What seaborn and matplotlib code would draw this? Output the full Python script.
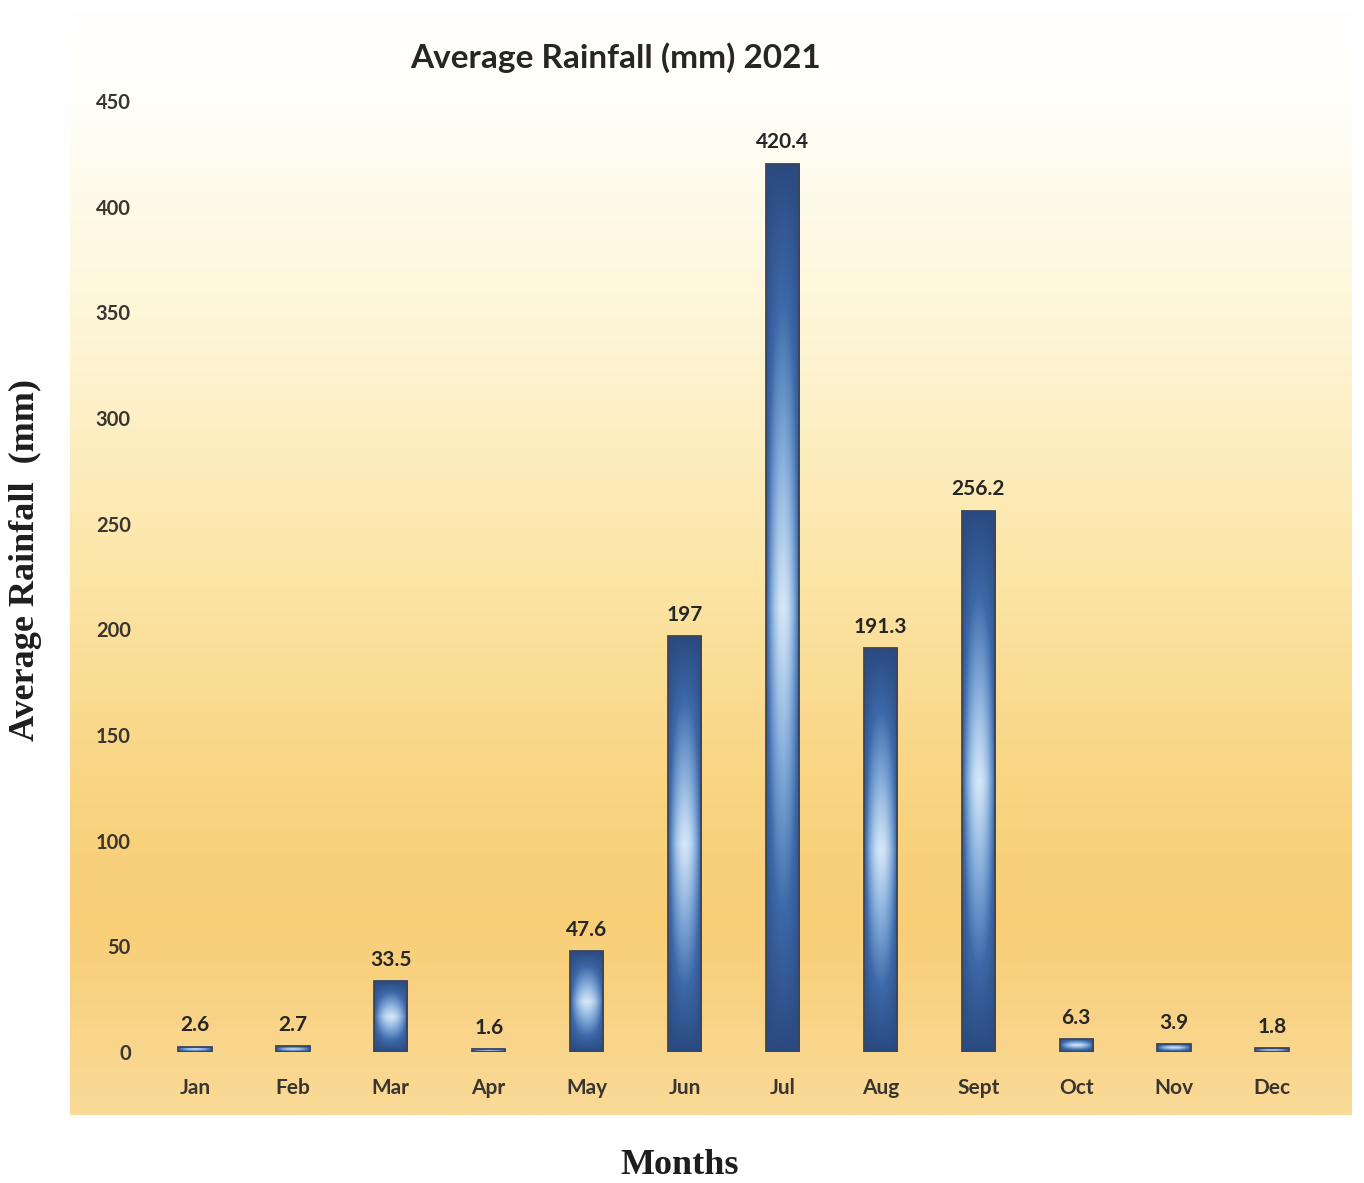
import numpy as np
import pandas as pd
import matplotlib
matplotlib.use("Agg")
import matplotlib.pyplot as plt
import seaborn as sns
from matplotlib.colors import LinearSegmentedColormap

# Monthly rainfall data
months = ["Jan", "Feb", "Mar", "Apr", "May", "Jun", "Jul", "Aug", "Sept", "Oct", "Nov", "Dec"]
rainfall = [2.6, 2.7, 33.5, 1.6, 47.6, 197, 420.4, 191.3, 256.2, 6.3, 3.9, 1.8]
yticks = [0, 50, 100, 150, 200, 250, 300, 350, 400, 450]

title = "Average Rainfall (mm) 2021"
ylabel = "Average Rainfall  (mm)"
xlabel = "Months"

sns.set_theme(style="white")
plt.rcParams["font.family"] = ["Lato", "DejaVu Sans"]

W, H = 1364, 1183
fig = plt.figure(figsize=(W / 100, H / 100), dpi=100)
fig.patch.set_facecolor("white")

# Chart-area background: pale yellow at the top fading to warm orange
bg_cmap = LinearSegmentedColormap.from_list(
    "sunset",
    [(0.0, "#FFFFFF"), (0.10, "#FFFEF6"), (0.30, "#FEF5D4"), (0.50, "#FCE6A9"),
     (0.72, "#F9D37F"), (0.83, "#F8CE77"), (1.0, "#FADA98")],
)
bg_ax = fig.add_axes([70 / W, 1 - 1115 / H, (1352 - 70) / W, (1115 - 8) / H], zorder=0)
grad = np.linspace(0, 1, 512).reshape(-1, 1)
bg_ax.imshow(grad, aspect="auto", cmap=bg_cmap, extent=[0, 1, 0, 1], origin="upper")
bg_ax.axis("off")

# Main plotting axes
ax = fig.add_axes([146 / W, 1 - 1052 / H, (1321 - 146) / W, (1052 - 101) / H], zorder=1)
ax.patch.set_alpha(0)

df = pd.DataFrame({"Month": months, "Rainfall": rainfall})
sns.barplot(data=df, x="Month", y="Rainfall", ax=ax, width=0.34, color="#3A62A0",
            errorbar=None, saturation=1)

# Shaded fill for each bar: dark blue edges, pale centre
bar_cmap = LinearSegmentedColormap.from_list(
    "steel", ["#2A4A80", "#3D68A8", "#80A9D8", "#D4E6F8"])
nu, nv = 64, 256
u = np.linspace(-1, 1, nu)
v = np.linspace(-1, 1, nv)
U, V = np.meshgrid(u, v)
shade = (1 - np.abs(V) ** 1.1) * (1 - 0.75 * U ** 2)

for patch in ax.patches:
    x0, y0 = patch.get_x(), patch.get_y()
    w, h = patch.get_width(), patch.get_height()
    img = ax.imshow(shade, cmap=bar_cmap, vmin=0, vmax=1, aspect="auto",
                    extent=[x0, x0 + w, y0, y0 + h], origin="lower", zorder=2,
                    interpolation="bilinear")
    img.set_clip_path(patch)
    patch.set_facecolor("none")
    patch.set_edgecolor("#3B4660")
    patch.set_linewidth(1.3)
    patch.set_zorder(3)

ax.set_xlim(-0.5, len(months) - 0.5)
ax.set_ylim(0, 450)
ax.set_aspect("auto")

# Value labels above bars
for patch, val in zip(ax.patches, rainfall):
    ax.annotate(f"{val:g}", (patch.get_x() + patch.get_width() / 2, patch.get_height()),
                xytext=(0, 8), textcoords="offset points", ha="center", va="bottom",
                fontsize=15, fontweight="bold", color="#262626", zorder=4)

ax.set_yticks(yticks)
ax.set_yticklabels([str(t) for t in yticks])
ax.tick_params(axis="y", length=0, pad=11, labelsize=14.5, labelcolor="#3A3530")
ax.tick_params(axis="x", length=0, pad=19, labelsize=15, labelcolor="#3A3530")
for lab in ax.get_xticklabels() + ax.get_yticklabels():
    lab.set_fontweight("bold")
ax.set_xlabel("")
ax.set_ylabel("")
ax.grid(False)
sns.despine(ax=ax, left=True, bottom=True)

fig.text(616 / W, 1 - 58 / H, title, ha="center", va="center",
         fontsize=24, fontweight="bold", color="#262626")
fig.text(25 / W, 1 - 560 / H, ylabel, ha="center", va="center", rotation=90,
         fontsize=26, fontweight="bold", family="Liberation Serif", color="#1E1E1E")
fig.text(680 / W, 1 - 1165 / H, xlabel, ha="center", va="center",
         fontsize=26, fontweight="bold", family="Liberation Serif", color="#1E1E1E")

fig.savefig("out.png", dpi=100, facecolor="white")
